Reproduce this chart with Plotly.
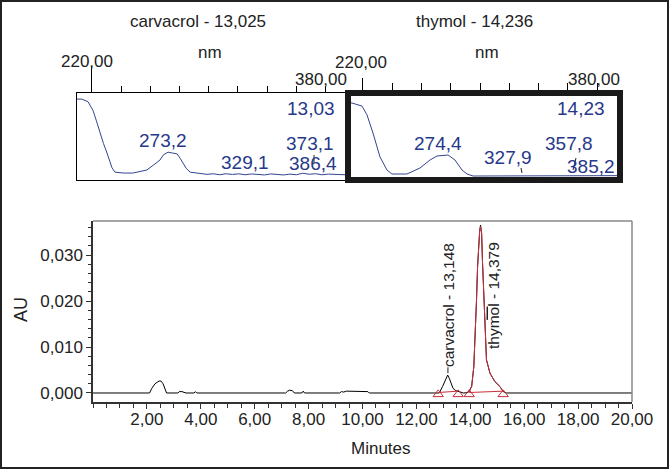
import plotly.graph_objects as go

W, H = 669, 469

# ---- chromatogram (minutes / AU) ----
time_min = [0, 2.10, 2.18, 2.30, 2.45, 2.52, 2.60, 2.67, 2.73, 3.15, 3.20, 3.30, 3.40, 3.45,
            3.75, 3.80, 3.85, 5.65, 5.70, 5.75, 7.15, 7.22, 7.30, 7.40, 7.47, 7.75, 7.80, 7.85,
            9.15, 9.22, 9.30, 9.40, 9.50, 10.10, 10.20, 10.25,
            12.85, 12.97, 13.06, 13.12, 13.16, 13.22, 13.28, 13.36, 13.46, 13.55, 13.65, 13.75,
            13.92, 14.05, 14.13, 14.19, 14.23, 14.27, 14.32, 14.35, 14.38, 14.42, 14.45, 14.49,
            14.53, 14.60, 14.73, 14.91, 15.10, 15.22, 15.35, 20]
au = [0, 0, 0.0010, 0.0020, 0.0026, 0.0026, 0.0020, 0.0008, 0, 0, 0.0003, 0.0003, 0.0002, 0,
      0, 0.0003, 0, 0, 0.0001, 0, 0, 0.0004, 0.0006, 0.0005, 0, 0, 0.0004, 0,
      0, 0.0003, 0.0002, 0.0004, 0.0004, 0.0004, 0.0003, 0,
      0, 0.0014, 0.0028, 0.0035, 0.0039, 0.0032, 0.0021, 0.0010, 0.0005, 0.0003, 0.0002, 0,
      0.0001, 0.0014, 0.0057, 0.0130, 0.0202, 0.0275, 0.0333, 0.0354, 0.0365, 0.0348, 0.0289, 0.0231,
      0.0160, 0.0072, 0.0043, 0.0025, 0.0014, 0.0003, 0, 0]

# thymol peak (integrated, red)
thy_time = [13.96, 14.05, 14.13, 14.19, 14.23, 14.27, 14.32, 14.35, 14.38, 14.42, 14.45, 14.49,
            14.53, 14.60, 14.73, 14.91, 15.10, 15.22]
thy_au = [0.0002, 0.0014, 0.0057, 0.0130, 0.0202, 0.0275, 0.0333, 0.0354, 0.0362, 0.0348, 0.0289, 0.0231,
          0.0160, 0.0072, 0.0043, 0.0025, 0.0014, 0.0003]

# integration baselines and start/end marks
carv_base_t = [12.81, 13.55]
carv_base_au = [0.0001, 0.0004]
thy_base_t = [13.96, 15.22]
thy_base_au = [0.0001, 0.0004]
mark_t = [12.81, 13.55, 13.96, 15.22]
mark_au = [-0.0003, -0.0003, -0.0003, -0.0003]

x_ticks = [2, 4, 6, 8, 10, 12, 14, 16, 18, 20]
y_ticks = [0, 0.01, 0.02, 0.03]

# ---- UV spectra (nm / relative absorbance) ----
carv_nm = [208.3, 212, 216.9, 220.8, 223.5, 226.3, 229, 231.8, 234, 235.7, 238, 245, 252, 258,
           263, 268, 273.3, 276, 279.6, 283, 286.7, 289, 291.4, 294, 296.9, 304.7, 310, 315,
           320, 325, 330, 335, 340, 345, 350, 355, 360, 365, 370, 375, 380, 385, 390, 395,
           400, 405, 410, 418.1]
carv_abs = [0.93, 0.93, 0.90, 0.80, 0.68, 0.54, 0.42, 0.31, 0.20, 0.14, 0.09, 0.08, 0.08, 0.095,
            0.115, 0.17, 0.23, 0.29, 0.32, 0.31, 0.30, 0.25, 0.195, 0.13, 0.09, 0.075, 0.065, 0.072,
            0.06, 0.072, 0.064, 0.071, 0.06, 0.07, 0.064, 0.058, 0.07, 0.062, 0.058, 0.068, 0.06, 0.078,
            0.066, 0.072, 0.06, 0.068, 0.062, 0.06]
thy_nm = [208.3, 211.4, 219.2, 223.1, 227.8, 233.3, 238.7, 242.6, 254.3, 264.5, 272.3, 277.8,
          286.4, 291.8, 297.3, 301.2, 305.9, 420.6]
thy_abs = [0.89, 0.885, 0.85, 0.75, 0.54, 0.264, 0.115, 0.069, 0.069, 0.138, 0.23, 0.276,
           0.287, 0.23, 0.115, 0.069, 0.046, 0.05]

carv_title = "carvacrol - 13,025"
thy_title = "thymol - 14,236"
carv_lambda = ["13,03", "273,2", "329,1", "373,1", "386,4"]
thy_lambda = ["14,23", "274,4", "327,9", "357,8", "385,2"]
peak_labels = ["carvacrol - 13,148", "thymol - 14,379"]

FONT = "Liberation Sans, Arial, sans-serif"
BLUE = "#27388a"
RED = "#c8303c"


def px(x):
    return x / W


def py(y):
    return 1 - y / H


fig = go.Figure()

# chromatogram
fig.add_trace(go.Scatter(x=time_min, y=au, mode="lines", line=dict(color="black", width=1),
                         xaxis="x", yaxis="y", hoverinfo="skip"))
fig.add_trace(go.Scatter(x=thy_time, y=thy_au, mode="lines", line=dict(color=RED, width=1),
                         xaxis="x", yaxis="y", hoverinfo="skip"))
for bt, ba in [(carv_base_t, carv_base_au), (thy_base_t, thy_base_au)]:
    fig.add_trace(go.Scatter(x=bt, y=ba, mode="lines", line=dict(color=RED, width=1),
                             xaxis="x", yaxis="y", hoverinfo="skip"))
fig.add_trace(go.Scatter(x=mark_t, y=mark_au, mode="markers",
                         marker=dict(symbol="triangle-up-open", size=9, color=RED, line=dict(width=1)),
                         xaxis="x", yaxis="y", hoverinfo="skip"))

# spectra
fig.add_trace(go.Scatter(x=carv_nm, y=carv_abs, mode="lines", line=dict(color="#34458f", width=1),
                         xaxis="x2", yaxis="y2", hoverinfo="skip"))
fig.add_trace(go.Scatter(x=thy_nm, y=thy_abs, mode="lines", line=dict(color="#34458f", width=1),
                         xaxis="x3", yaxis="y3", hoverinfo="skip"))

spec_minor = dict(tick0=220, dtick=160 / 7, ticks="outside", tickcolor="black")
spec_y = dict(range=[0, 1], domain=[py(180), py(93)], showticklabels=False, ticks="",
              showgrid=False, zeroline=False, automargin=False)

annotations = []


def note(text, x, y, size=17, color="#222", **kw):
    annotations.append(dict(text=text, x=px(x), y=py(y), xref="paper", yref="paper",
                            xanchor="center", yanchor="middle", showarrow=False,
                            font=dict(size=size, color=color, family=FONT), **kw))


# top panel texts
note(carv_title, 198, 22)
note(thy_title, 474, 22)
note("nm", 210, 52)
note("nm", 487, 52)
note("220,00", 87, 61)
note("380,00", 321, 80)
note("220,00", 361, 62)
note("380,00", 594, 80)

for t, (x, y) in zip(carv_lambda, [(311, 109), (163, 140), (245, 162), (310, 143), (313, 164)]):
    note(t, x, y, size=19, color=BLUE)
for t, (x, y) in zip(thy_lambda, [(581, 109), (438, 143), (508, 157), (569, 143), (591, 166)]):
    note(t, x, y, size=19, color=BLUE)

# bottom axis titles
note("AU", 21, 310, size=18, textangle=-90)
note("Minutes", 381, 448, size=17)

# peak labels
for t, x, y in zip(peak_labels, [13.17, 14.84], [0.0191, 0.0213]):
    annotations.append(dict(text=t, x=x, y=y, xref="x", yref="y", textangle=-90, showarrow=False,
                            xanchor="center", yanchor="middle",
                            font=dict(size=15.5, color="#222", family=FONT)))


def mark_line(x0, y0, x1, y1, color="#222", width=1):
    return dict(type="line", xref="paper", yref="paper", x0=px(x0), x1=px(x1), y0=py(y0), y1=py(y1),
                line=dict(color=color, width=width))


shapes = [
    # outer image frame
    dict(type="rect", xref="paper", yref="paper", x0=px(1), x1=px(668), y0=py(468), y1=py(1),
         line=dict(color="#222", width=2)),
    # selected spectrum frame
    dict(type="rect", xref="paper", yref="paper", x0=px(348), x1=px(620), y0=py(180), y1=py(93),
         line=dict(color="#1a1a1a", width=6)),
    # chromatogram frame (top, right)
    mark_line(93, 221, 632, 221, color="#888", width=1.5),
    mark_line(632, 402, 632, 221, color="#888", width=1.5),
    # small wavelength markers on the spectra
    mark_line(314, 155, 314, 163),
    mark_line(576, 158, 573, 170),
    mark_line(521, 168, 522, 173),
    # peak label leaders
    dict(type="line", xref="x", yref="y", x0=13.17, x1=13.17, y0=0.0043, y1=0.0056,
         line=dict(color="#222", width=1)),
    dict(type="line", xref="x", yref="y", x0=14.63, x1=14.63, y0=0.0159, y1=0.0188,
         line=dict(color="#222", width=1.5)),
]

fig.update_layout(
    width=W, height=H,
    margin=dict(l=0, r=0, t=0, b=0, pad=0),
    paper_bgcolor="white", plot_bgcolor="white",
    showlegend=False,
    separators=", ",
    font=dict(family=FONT, color="#222"),
    xaxis=dict(domain=[px(93), px(632)], range=[0, 20], anchor="y", automargin=False,
               tickvals=x_ticks, tickformat=".2f", ticks="outside", ticklen=5, tickcolor="#333",
               minor=dict(dtick=0.5, ticklen=4, ticks="outside", tickcolor="#333"),
               showline=True, linecolor="#333", linewidth=1.5, ticklabelstandoff=-4,
               showgrid=False, zeroline=False, tickfont=dict(size=17)),
    yaxis=dict(domain=[py(402), py(221)], range=[-0.00196, 0.0374], anchor="x", automargin=False,
               tickvals=y_ticks, tickformat=".3f", ticks="outside", ticklen=5, tickcolor="#333",
               minor=dict(dtick=0.002, ticklen=3, ticks="outside", tickcolor="#333"),
               showline=True, linecolor="#333", linewidth=1.5,
               showgrid=False, zeroline=False, tickfont=dict(size=17)),
    xaxis2=dict(domain=[px(77), px(345)], range=[208.3, 418.1], anchor="y2", side="top",
                automargin=False,
                tickvals=[220], ticks="outside", ticklen=25, tickcolor="black",
                minor=dict(spec_minor, ticklen=6), showticklabels=False,
                showline=True, mirror=True, linecolor="black", linewidth=1,
                showgrid=False, zeroline=False),
    yaxis2=dict(spec_y, anchor="x2", showline=True, mirror=True, linecolor="black", linewidth=1),
    xaxis3=dict(domain=[px(348), px(620)], range=[208.3, 420.6], anchor="y3", side="top",
                automargin=False,
                tickvals=[220], ticks="outside", ticklen=14, tickcolor="black",
                minor=dict(spec_minor, ticklen=9), showticklabels=False,
                showline=False, showgrid=False, zeroline=False),
    yaxis3=dict(spec_y, anchor="x3", showline=False),
    annotations=annotations,
    shapes=shapes,
)

# page body margin would push the fixed-size figure off the window
fig.write_html("out.html", config={"displayModeBar": False},
               post_script="document.body.style.margin='0';document.body.style.overflow='hidden';")
